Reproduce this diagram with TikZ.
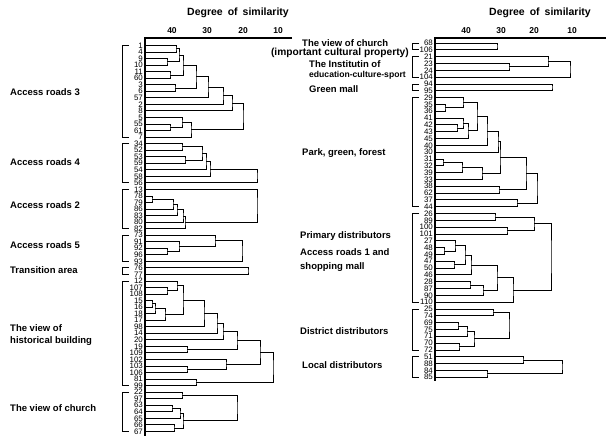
\documentclass[tikz,border=0pt]{standalone}
\usepackage{fontspec}
\setmainfont{Liberation Sans}
\usetikzlibrary{calc}
\newcommand\numfont{\fontsize{7.9}{7.9}\selectfont}
\newcommand\catfont{\fontsize{9.5}{10}\selectfont\bfseries}
\newcommand\ttlfont{\fontsize{10.5}{11}\selectfont\bfseries}
\newcommand\tckfont{\fontsize{8.5}{9}\selectfont\bfseries}
\newcommand\mrg[4]{\coordinate (tmp) at ($(#2)!0.5!(#3)$);\coordinate (#1) at (#4,0 |- tmp);\draw[br] (#2) -| (#1) |- (#3);}
\newcommand\grpL[2]{\draw[br] (129,0 |- #1) -- (122,0 |- #1) -- (122,0 |- #2) -- (129,0 |- #2);}
\newcommand\grpR[2]{\draw[br] (419,0 |- #1) -- (412,0 |- #1) -- (412,0 |- #2) -- (419,0 |- #2);}
\tikzset{
  br/.style={line width=0.8pt},
  ax/.style={line width=1.3pt},
  lbl/.style={font=\numfont, anchor=east, inner sep=0pt},
  cat/.style={font=\catfont, anchor=west, inner sep=0pt},
  ttl/.style={font=\ttlfont, inner sep=0pt},
  tck/.style={font=\tckfont, inner sep=0pt}
}
\begin{document}
\begin{tikzpicture}[x=1pt,y=-1pt]
\useasboundingbox (0,0) rectangle (606,436);
\fill[white] (0,0) rectangle (606,436);
% titles and axes
\node[ttl] (t1) at (238,13) {Degree\hspace{5pt}of\hspace{5pt}similarity};
\node[ttl] (t2) at (540,13) {Degree\hspace{5pt}of\hspace{5pt}similarity};
\node[tck] (x1) at (172,31) {40};
\node[tck] (x2) at (207,31) {30};
\node[tck] (x3) at (243,31) {20};
\node[tck] (x4) at (278,31) {10};
\node[tck] (y1) at (466,31) {40};
\node[tck] (y2) at (501,31) {30};
\node[tck] (y3) at (534,31) {20};
\node[tck] (y4) at (572,31) {10};
\coordinate (la0) at (145,38); \coordinate (la1) at (292,38); \coordinate (la2) at (145,436);
\coordinate (ra0) at (435,38); \coordinate (ra1) at (606,38); \coordinate (ra2) at (435,381);
\draw[ax] (la1) -- (la0) -- (la2);
\draw[ax] (ra1) -- (ra0) -- (ra2);
% left leaves
\foreach \t [count=\i from 0] in {1,4,9,10,11,60,3,6,57,2,8,5,55,61,7,34,52,53,59,54,58,56,13,78,79,86,83,80,82,73,91,92,96,93,76,77,12,107,108,15,16,18,17,98,14,20,19,109,102,103,106,81,99,22,97,63,64,65,66,67}{
  \node[lbl] (ln\t) at (143,{45.5+6.54*\i}) {\t};
  \coordinate (l\t) at (145,{45.5+6.54*\i});
}
% right leaves
\foreach \t [count=\i from 0] in {68,106,21,23,24,104,94,95,29,35,36,41,42,43,45,40,30,31,32,39,33,38,62,37,44,26,89,100,101,27,48,49,47,50,46,28,87,90,110,25,74,69,75,71,70,72,51,88,84,85}{
  \node[lbl] (rn\t) at (433,{43+6.82*\i}) {\t};
  \coordinate (r\t) at (435,{43+6.82*\i});
}
% ---- left tree: access roads 3
\mrg{a1}{l1}{l4}{176}
\mrg{a2}{l9}{l10}{167}
\mrg{a3}{a1}{a2}{179}
\mrg{a4}{l11}{l60}{170}
\mrg{a5}{a3}{a4}{183}
\mrg{a6}{l3}{l6}{175}
\mrg{a7}{a5}{a6}{196}
\mrg{a8}{a7}{l57}{208}
\mrg{a9}{a8}{l2}{223}
\mrg{a10}{a9}{l8}{232}
\mrg{a11}{l55}{l61}{170}
\mrg{a12}{l5}{a11}{182}
\mrg{a13}{a12}{l7}{191}
\mrg{a14}{a10}{a13}{243}
% access roads 4
\mrg{b1}{l34}{l52}{182}
\mrg{b2}{l53}{l59}{185}
\mrg{b3}{b1}{b2}{202}
\mrg{b4}{b3}{l54}{206}
\mrg{b5}{b4}{l58}{210}
\mrg{b6}{b5}{l56}{257}
% access roads 2
\mrg{c1}{l78}{l79}{152}
\mrg{c2}{c1}{l86}{173}
\mrg{c3}{c2}{l83}{177}
\mrg{c4}{c3}{l80}{183}
\mrg{c5}{c4}{l82}{185}
\mrg{c6}{l13}{c5}{257}
% access roads 5
\mrg{d1}{l92}{l96}{167}
\mrg{d2}{l91}{d1}{179}
\mrg{d3}{l73}{d2}{215}
\mrg{d4}{d3}{l93}{242}
% transition
\mrg{e1}{l76}{l77}{248}
% historical building
\mrg{h1}{l107}{l108}{167}
\mrg{h2}{l12}{h1}{177}
\mrg{h3}{l15}{l16}{152}
\mrg{h4}{h3}{l18}{155}
\mrg{h5}{h4}{l17}{165}
\mrg{h6}{h2}{h5}{183}
\mrg{h7}{h6}{l98}{204}
\mrg{h8}{h7}{l14}{217}
\mrg{h9}{h8}{l20}{223}
\mrg{h10}{l19}{l109}{187}
\mrg{h11}{h9}{h10}{237}
\mrg{h12}{l103}{l106}{187}
\mrg{h13}{l102}{h12}{226}
\mrg{h14}{h11}{h13}{260}
\mrg{h15}{l81}{l99}{196}
\mrg{h16}{h14}{h15}{273}
% church
\mrg{k1}{l22}{l97}{182}
\mrg{k2}{l63}{l64}{172}
\mrg{k3}{k2}{l65}{180}
\mrg{k4}{l66}{l67}{174}
\mrg{k5}{k3}{k4}{183}
\mrg{k6}{k1}{k5}{237}
% ---- right tree
\mrg{v1}{r68}{r106}{497}
\mrg{v2}{r23}{r24}{509}
\mrg{v3}{r21}{v2}{548}
\mrg{v4}{v3}{r104}{570}
\mrg{v5}{r94}{r95}{552}
% park
\mrg{p1}{r35}{r36}{445}
\mrg{p2}{r29}{p1}{463}
\mrg{p3}{r42}{r43}{457}
\mrg{p4}{r41}{p3}{463}
\mrg{p5}{p4}{r45}{468}
\mrg{p6}{p2}{p5}{477}
\mrg{p7}{p6}{r40}{487}
\mrg{p8}{p7}{r30}{498}
\mrg{p9}{r31}{r32}{443}
\mrg{p10}{p9}{r39}{462}
\mrg{p11}{p10}{r33}{482}
\mrg{p12}{p8}{p11}{500}
\mrg{p13}{r38}{r62}{499}
\mrg{p14}{p12}{p13}{526}
\mrg{p15}{r37}{r44}{517}
\mrg{p16}{p14}{p15}{537}
% primary + access roads 1
\mrg{q1}{r48}{r49}{444}
\mrg{q2}{r27}{q1}{455}
\mrg{q3}{r47}{r50}{454}
\mrg{q4}{q2}{q3}{465}
\mrg{q5}{q4}{r46}{471}
\mrg{q6}{r28}{r87}{470}
\mrg{q7}{q6}{r90}{483}
\mrg{q8}{q5}{q7}{497}
\mrg{q9}{q8}{r110}{513}
\mrg{s1}{r26}{r89}{495}
\mrg{s2}{r100}{r101}{507}
\mrg{s3}{s1}{s2}{534}
\mrg{s4}{s3}{q9}{551}
% district
\mrg{u1}{r25}{r74}{493}
\mrg{u2}{r69}{r75}{458}
\mrg{u3}{u2}{r71}{467}
\mrg{u4}{r70}{r72}{459}
\mrg{u5}{u3}{u4}{474}
\mrg{u6}{u1}{u5}{509}
% local
\mrg{w1}{r51}{r88}{523}
\mrg{w2}{r84}{r85}{487}
\mrg{w3}{w1}{w2}{562}
% group brackets
\grpL{l1}{l7}
\grpL{l34}{l56}
\grpL{l13}{l82}
\grpL{l73}{l93}
\grpL{l76}{l77}
\grpL{l12}{l99}
\grpL{l22}{l67}
\grpR{r68}{r106}
\grpR{r21}{r104}
\grpR{r94}{r95}
\grpR{r29}{r44}
\grpR{r26}{r110}
\grpR{r25}{r72}
\grpR{r51}{r85}
% left category labels
\node[cat] (g1) at (10,92) {Access roads 3};
\node[cat] (g2) at (10,162) {Access roads 4};
\node[cat] (g3) at (10,205) {Access roads 2};
\node[cat] (g4) at (10,245) {Access roads 5};
\node[cat] (g5) at (10,270) {Transition area};
\node[cat] (g6) at (10,328) {The view of};
\node[cat] (g7) at (10,341) {historical building};
\node[cat] (g8) at (10,408) {The view of church};
% right category labels
\node[cat] (f1) at (302,43) {The view of church};
\node[cat,anchor=east,font=\fontsize{10.2}{11}\selectfont\bfseries] (f2) at (409,52.5) {(important cultural property)};
\node[cat] (f3) at (309,64) {The Institutin of};
\node[cat,font=\fontsize{8.6}{9}\selectfont\bfseries] (f4) at (309,75) {education-culture-sport};
\node[cat] (f5) at (309,89) {Green mall};
\node[cat] (f6) at (302,153) {Park, green, forest};
\node[cat] (f7) at (300,236) {Primary distributors};
\node[cat] (f8) at (300,252) {Access roads 1 and};
\node[cat] (f9) at (300,267) {shopping mall};
\node[cat] (f10) at (300,331) {District distributors};
\node[cat] (f11) at (302,365) {Local distributors};
\end{tikzpicture}
\end{document}
